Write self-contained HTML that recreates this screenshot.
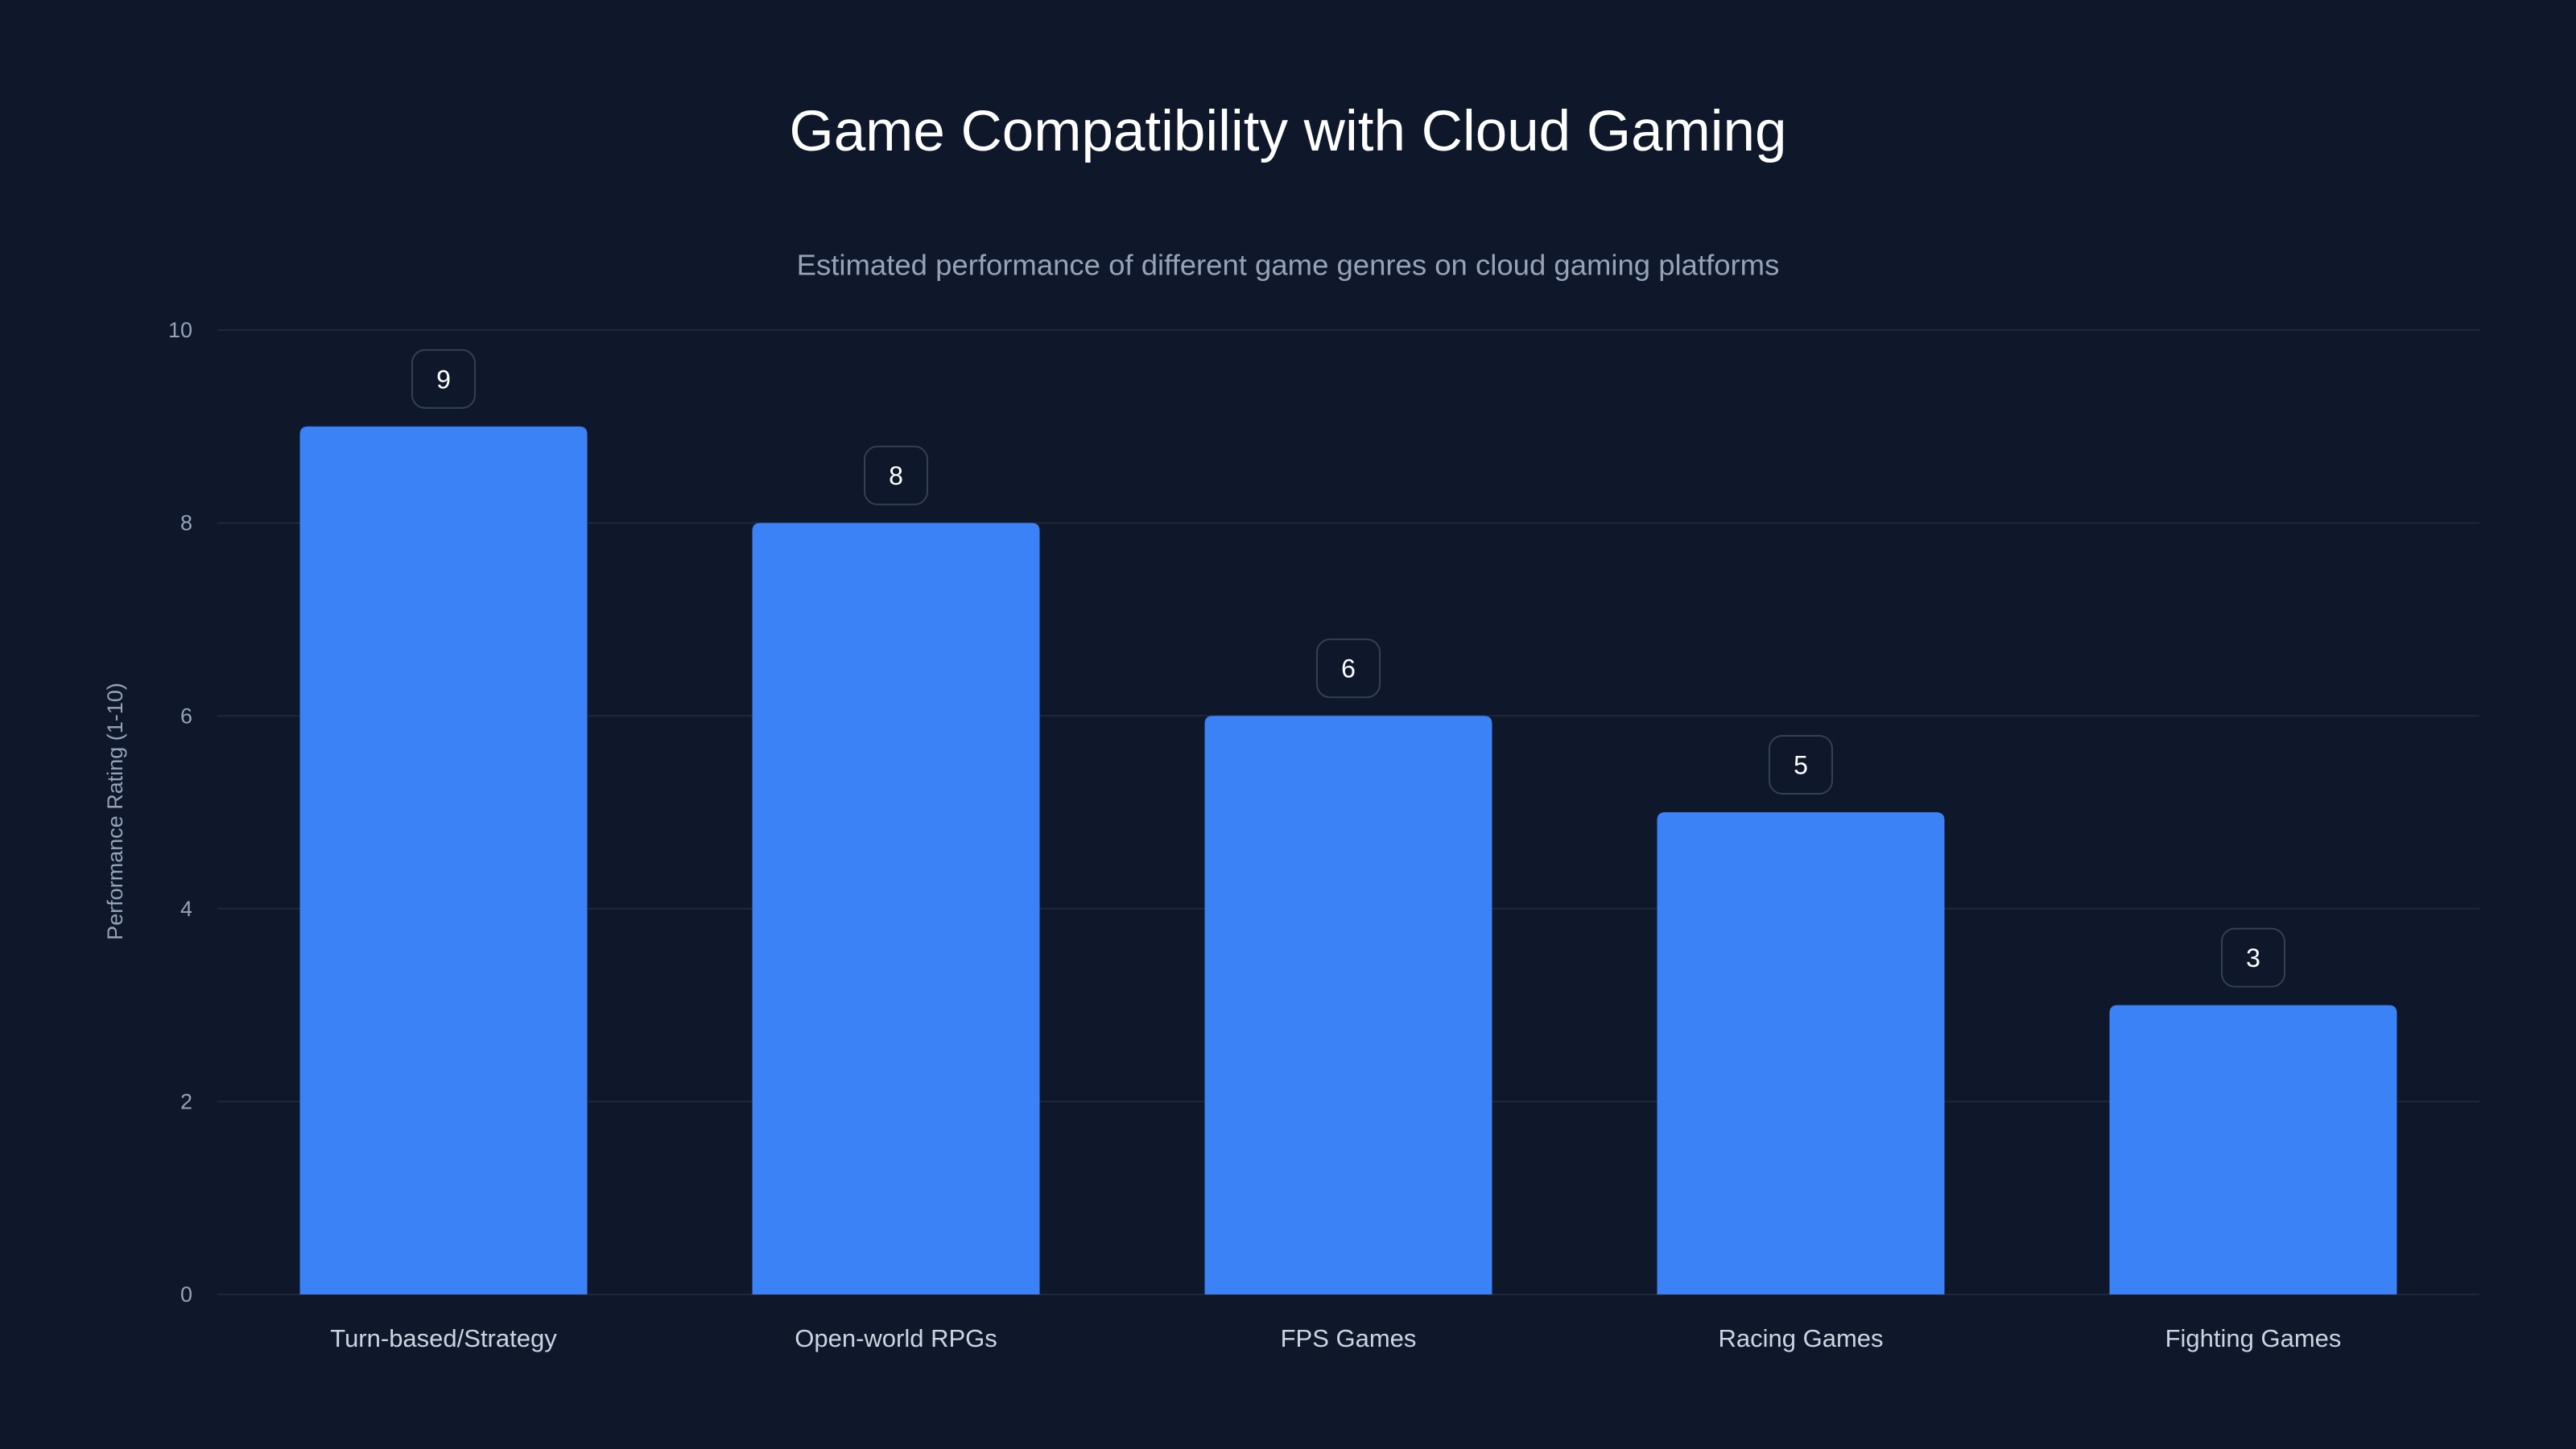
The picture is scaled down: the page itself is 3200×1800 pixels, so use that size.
<!DOCTYPE html>
<html><head><meta charset="utf-8"><style>
html,body{margin:0;padding:0;background:#0f172a;width:3200px;height:1800px;overflow:hidden}
svg text{font-family:"Liberation Sans",sans-serif}
</style></head><body>
<svg id="chart" width="3200" height="1800" xmlns="http://www.w3.org/2000/svg">
<rect width="3200" height="1800" fill="#0f172a"/>
<text x="1600" y="168" text-anchor="middle" dominant-baseline="middle" font-size="71" fill="#ffffff">Game Compatibility with Cloud Gaming</text>
<text x="1600" y="332" text-anchor="middle" dominant-baseline="middle" font-size="36.5" fill="#94a3b8">Estimated performance of different game genres on cloud gaming platforms</text>
<text x="145" y="1008" text-anchor="middle" dominant-baseline="middle" font-size="27" fill="#94a3b8" transform="rotate(-90 145 1008)">Performance Rating (1-10)</text>
<g id="grid"></g><g id="bars"></g>
</svg>
<script>
const categories = ["Turn-based/Strategy","Open-world RPGs","FPS Games","Racing Games","Fighting Games"];
const values = [9,8,6,5,3];
const yTicks = [0,2,4,6,8,10];
const L=270,R=3080,T=410,B=1608,yMax=10;
const ns="http://www.w3.org/2000/svg";
const y=v=>B-(v/yMax)*(B-T);
const band=(R-L)/categories.length;
const xc=i=>L+band*(i+0.5);
const bw=357;
function mk(t,a,p){const e=document.createElementNS(ns,t);for(const k in a)e.setAttribute(k,a[k]);p.appendChild(e);return e;}
const g=document.getElementById('grid'),bg=document.getElementById('bars');
yTicks.forEach(t=>{
  const l=mk('line',{x1:L,x2:R,y1:y(t),y2:y(t),stroke:'#1e293b','stroke-width':2},g);
  
  
  const tx=mk('text',{x:239,y:y(t)+2,'text-anchor':'end','dominant-baseline':'middle','font-size':27,fill:'#94a3b8'},g);
  tx.textContent=t;
  
  
});
categories.forEach((c,i)=>{
  const v=values[i],top=y(v),x=xc(i)-bw/2,h=B-top,r=10;
  const p=mk('path',{d:`M${x},${B}V${top+r}Q${x},${top} ${x+r},${top}H${x+bw-r}Q${x+bw},${top} ${x+bw},${top+r}V${B}Z`,fill:'#3b82f6'},bg);
  
  
  const bx=mk('rect',{x:xc(i)-39,y:top-95,width:78,height:72,rx:16,fill:'#0f172a',stroke:'#334155','stroke-width':2},bg);
  
  
  const vt=mk('text',{x:xc(i),y:top-56,'text-anchor':'middle','dominant-baseline':'middle','font-size':32,fill:'#ffffff'},bg);
  vt.textContent=v;
  
  
  const ct=mk('text',{x:xc(i),y:1665,'text-anchor':'middle','dominant-baseline':'middle','font-size':31,fill:'#cbd5e1'},bg);
  ct.textContent=c;
  
  
});
</script>
</body></html>
